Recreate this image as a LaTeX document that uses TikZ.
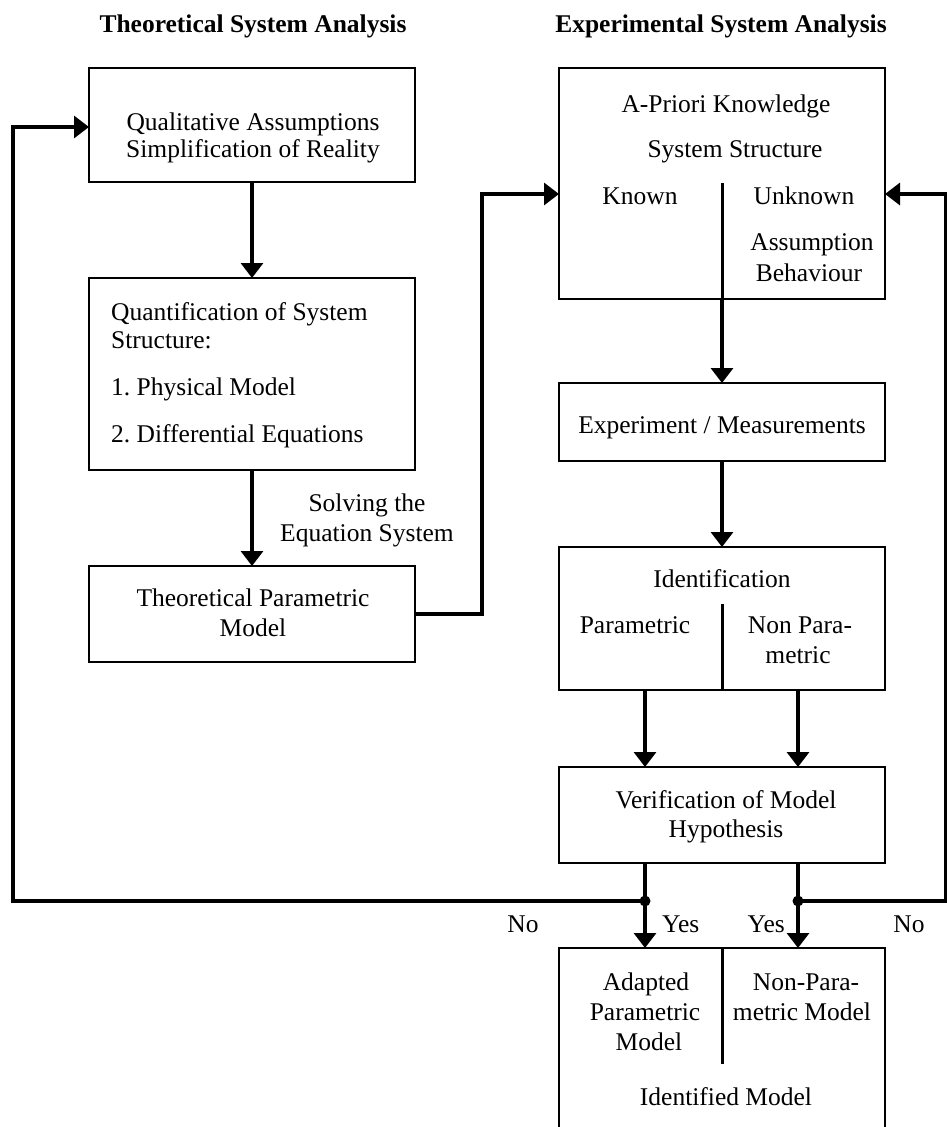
\documentclass[tikz,border=0pt]{standalone}
\usepackage{fontspec}
\setmainfont{Liberation Serif}
\usetikzlibrary{arrows.meta}
\frenchspacing
\begin{document}
\begin{tikzpicture}[x=1pt,y=-1pt,
  box/.style={draw, line width=2.5pt, minimum width=326pt, inner sep=0pt, outer sep=0pt},
  wire/.style={line width=3.2pt},
  conn/.style={wire, -{Triangle[length=15pt,width=22pt]}},
  divider/.style={line width=3pt},
  txt/.style={anchor=base, inner sep=0pt, font=\fontsize{25.5pt}{29.5pt}\selectfont},
  ltxt/.style={txt, anchor=base west},
  title/.style={txt, font=\fontsize{25.5pt}{29.5pt}\selectfont\bfseries},
  dot/.style={circle, fill, inner sep=0pt, minimum size=11pt}
]
\useasboundingbox (0,0) rectangle (947,1127);
\clip (0,0) rectangle (947,1127);

% titles
\node[title] (tt1) at (253,32) {Theoretical System Analysis};
\node[title] (tt2) at (721,32) {Experimental System Analysis};

% boxes
\node[box, minimum height=114pt] (b1) at (252,125) {};
\node[box, minimum height=192pt] (b2) at (252,374) {};
\node[box, minimum height=96pt]  (b3) at (252,614) {};
\node[box, minimum height=231pt] (a1) at (722,183.5) {};
\node[box, minimum height=78pt]  (e1) at (722,422) {};
\node[box, minimum height=143pt] (i1) at (722,618.5) {};
\node[box, minimum height=96pt]  (v1) at (722,815) {};
\node[box, minimum height=184pt] (m1) at (722,1040) {};

% texts, left column
\node[txt] (q1) at (253,130) {Qualitative Assumptions};
\node[txt] (q2) at (253,157) {Simplification of Reality};
\node[ltxt] (s1) at (111,320) {Quantification of System};
\node[ltxt] (s2) at (111,348) {Structure:};
\node[ltxt] (s3) at (111,395) {1. Physical Model};
\node[ltxt] (s4) at (111,442) {2. Differential Equations};
\node[txt] (l1) at (367,511) {Solving the};
\node[txt] (l2) at (367,541) {Equation System};
\node[txt] (p1) at (253,606) {Theoretical Parametric};
\node[txt] (p2) at (253,636) {Model};

% texts, right column
\node[txt] (k1t) at (726,112) {A-Priori Knowledge};
\node[txt] (k2t) at (735,157) {System Structure};
\node[txt] (k3t) at (640,204) {Known};
\node[txt] (k4t) at (804,204) {Unknown};
\node[txt] (k5t) at (812,250) {Assumption};
\node[txt] (k6t) at (809,281) {Behaviour};
\node[txt] (x1t) at (722,433) {Experiment / Measurements};
\node[txt] (id1) at (722,587) {Identification};
\node[txt] (id2) at (635,633) {Parametric};
\node[txt] (id3) at (800,633) {Non Para-};
\node[txt] (id4) at (798,663) {metric};
\node[txt] (vt1) at (726,808) {Verification of Model};
\node[txt] (vt2) at (726,837) {Hypothesis};
\node[txt] (no1) at (523,932) {No};
\node[txt, anchor=base west] (ye1) at (662,932) {Yes};
\node[txt, anchor=base east] (ye2) at (785,932) {Yes};
\node[txt] (no2) at (909,932) {No};
\node[txt] (m1t) at (646,990) {Adapted};
\node[txt] (m2t) at (645,1020) {Parametric};
\node[txt] (m3t) at (649,1050) {Model};
\node[txt] (m4t) at (806,990) {Non-Para-};
\node[txt] (m5t) at (802,1020) {metric Model};
\node[txt] (m6t) at (726,1105) {Identified Model};

% helper coordinates
\coordinate (k1) at (482,613);
\coordinate (k2) at (482,194);
\coordinate (d1) at (722,183);
\coordinate (d2) at (722,604);
\coordinate (d3) at (722,1064);
\coordinate (J1) at (645,901);
\coordinate (J2) at (798,901);
\coordinate (L1) at (13,901);
\coordinate (L2) at (13,127);
\coordinate (R1) at (945.5,901);
\coordinate (R2) at (945.5,194);

% dividers
\draw[divider] (d1) -- (a1.south);
\draw[divider] (d2) -- (i1.south);
\draw[divider] (m1.north) -- (d3);

% connectors
\draw[conn] (b1) -- (b2);
\draw[conn] (b2) -- (b3);
\draw[conn] (b3.east) -- (b3.east -| k1) -- (k2) -- (k2 -| a1.west);
\draw[conn] (a1) -- (e1);
\draw[conn] (e1) -- (i1);
\draw[conn] (i1.south -| J1) -- (v1.north -| J1);
\draw[conn] (i1.south -| J2) -- (v1.north -| J2);
\draw[conn] (v1.south -| J1) -- (m1.north -| J1);
\draw[conn] (v1.south -| J2) -- (m1.north -| J2);
\draw[conn] (J1) -- (L1) -- (L2) -- (L2 -| b1.west);
\draw[conn] (J2) -- (R1) -- (R2) -- (R2 -| a1.east);
\node[dot] (j1) at (J1) {};
\node[dot] (j2) at (J2) {};
\end{tikzpicture}
\end{document}
